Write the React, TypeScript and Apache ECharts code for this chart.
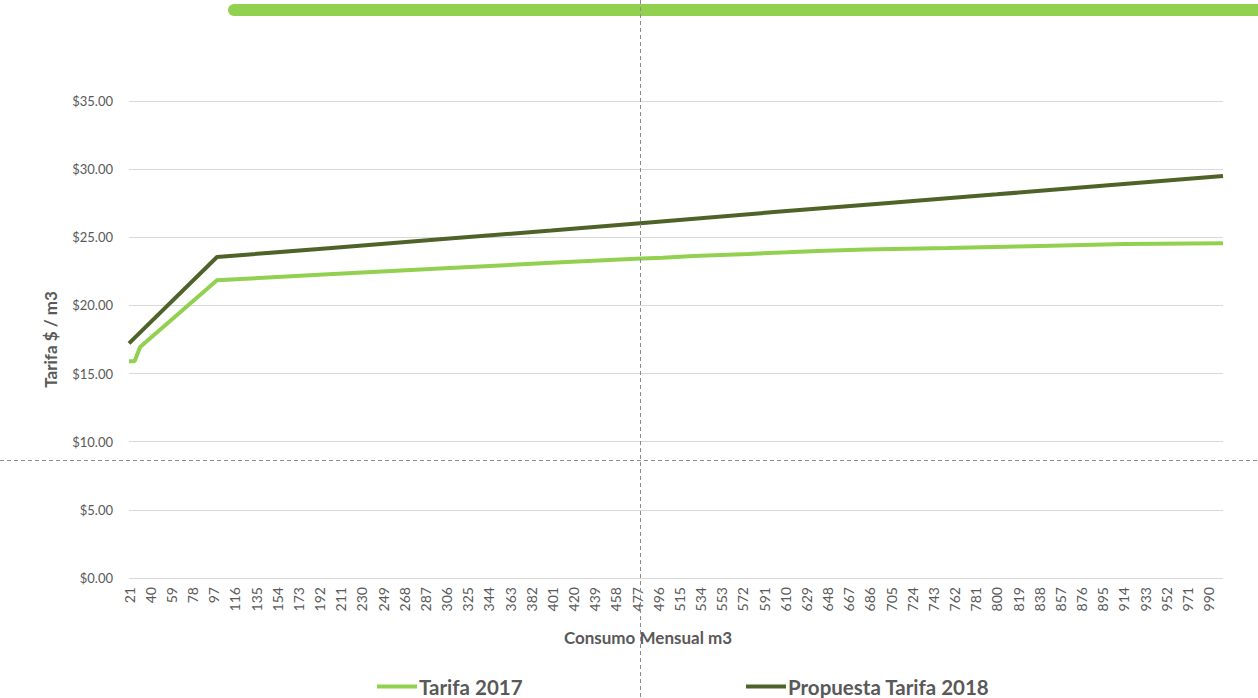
import React, { useEffect, useRef } from "react";
import * as echarts from "echarts";

const seriesNames = ["Tarifa 2017", "Propuesta Tarifa 2018"];
const tarifa2017: [number, number][] = [
  [21, 15.9], [26, 15.9], [31, 16.95], [100, 21.85], [200, 22.28], [300, 22.71],
  [400, 23.13], [476, 23.42], [500, 23.5], [528, 23.62], [577, 23.78], [612, 23.9],
  [639, 24.0], [682, 24.1], [756, 24.22], [830, 24.35], [915, 24.5], [1003, 24.56],
];
const propuesta2018: [number, number][] = [
  [21, 17.22], [100, 23.55], [200, 24.2], [300, 24.85], [400, 25.5], [477, 26.02],
  [600, 26.85], [700, 27.5], [800, 28.15], [900, 28.82], [1003, 29.5],
];
const xTickLabels = [
  21, 40, 59, 78, 97, 116, 135, 154, 173, 192, 211, 230, 249, 268, 287, 306, 325, 344,
  363, 382, 401, 420, 439, 458, 477, 496, 515, 534, 553, 572, 591, 610, 629, 648, 667,
  686, 705, 724, 743, 762, 781, 800, 819, 838, 857, 876, 895, 914, 933, 952, 971, 990,
];
const yTicks = [0, 5, 10, 15, 20, 25, 30, 35];

const FONT = "Lato, 'Liberation Sans', sans-serif";
const GREY = "#595959";
const LIGHT = "#92d050";
const DARK = "#4f6228";

export default function App() {
  const ref = useRef<HTMLDivElement>(null);
  useEffect(() => {
    if (!ref.current) return;
    const chart = echarts.init(ref.current, null, { renderer: "svg" });
    const legendText = { color: GREY, fontSize: 20.5, fontWeight: "bold", fontFamily: FONT, padding: [0, 0, 0, -3] };
    chart.setOption({
      animation: false,
      backgroundColor: "#ffffff",
      textStyle: { fontFamily: FONT },
      grid: { left: 129, right: 35, top: 101, bottom: 120 },
      xAxis: {
        type: "value",
        min: 21,
        max: 1003,
        name: "Consumo Mensual m3",
        nameLocation: "middle",
        nameGap: 51,
        nameTextStyle: { color: GREY, fontSize: 17, fontWeight: "bold", fontFamily: FONT, padding: [0, 56, 0, 0] },
        axisLine: { show: false },
        axisTick: { show: false },
        splitLine: { show: false },
        axisLabel: {
          customValues: xTickLabels,
          rotate: 90,
          color: GREY,
          fontSize: 14,
          margin: 9,
          fontFamily: FONT,
        },
      },
      yAxis: {
        type: "value",
        min: 0,
        max: 35,
        interval: 5,
        name: "Tarifa $ / m3",
        nameLocation: "middle",
        nameGap: 70,
        nameTextStyle: { color: GREY, fontSize: 17, fontWeight: "bold", fontFamily: FONT },
        axisLine: { show: false },
        axisTick: { show: false },
        splitLine: { lineStyle: { color: "#d9d9d9", width: 1 } },
        axisLabel: {
          color: GREY,
          fontSize: 13,
          margin: 16,
          fontFamily: FONT,
          formatter: (v: number) => (yTicks.includes(v) ? "$" + v.toFixed(2) : ""),
        },
      },
      legend: [
        {
          data: [seriesNames[0]],
          left: 377,
          top: 676,
          padding: 0,
          icon: "rect",
          itemWidth: 40,
          itemHeight: 4,
          textStyle: legendText,
        },
        {
          data: [seriesNames[1]],
          left: 746,
          top: 676,
          padding: 0,
          icon: "rect",
          itemWidth: 40,
          itemHeight: 4,
          textStyle: legendText,
        },
      ],
      series: [
        {
          name: seriesNames[0],
          type: "line",
          data: tarifa2017,
          symbol: "none",
          lineStyle: { color: LIGHT, width: 4 },
          itemStyle: { color: LIGHT },
        },
        {
          name: seriesNames[1],
          type: "line",
          data: propuesta2018,
          symbol: "none",
          lineStyle: { color: DARK, width: 4 },
          itemStyle: { color: DARK },
        },
      ],
      graphic: [
        {
          type: "rect",
          shape: { x: 228, y: 4, width: 1060, height: 12, r: 6 },
          style: { fill: LIGHT },
          z: 100,
        },
        {
          type: "line",
          shape: { x1: 640.5, y1: 0, x2: 640.5, y2: 698 },
          style: { stroke: "#8c8c8c", lineWidth: 1, lineDash: [4, 3] },
          z: 101,
        },
        {
          type: "line",
          shape: { x1: 0, y1: 460.5, x2: 1258, y2: 460.5 },
          style: { stroke: "#8c8c8c", lineWidth: 1, lineDash: [4, 3] },
          z: 101,
        },
      ],
    });
    return () => chart.dispose();
  }, []);
  return (
    <div
      ref={ref}
      style={{ position: "fixed", left: 0, top: 0, width: 1258, height: 698 }}
    />
  );
}
